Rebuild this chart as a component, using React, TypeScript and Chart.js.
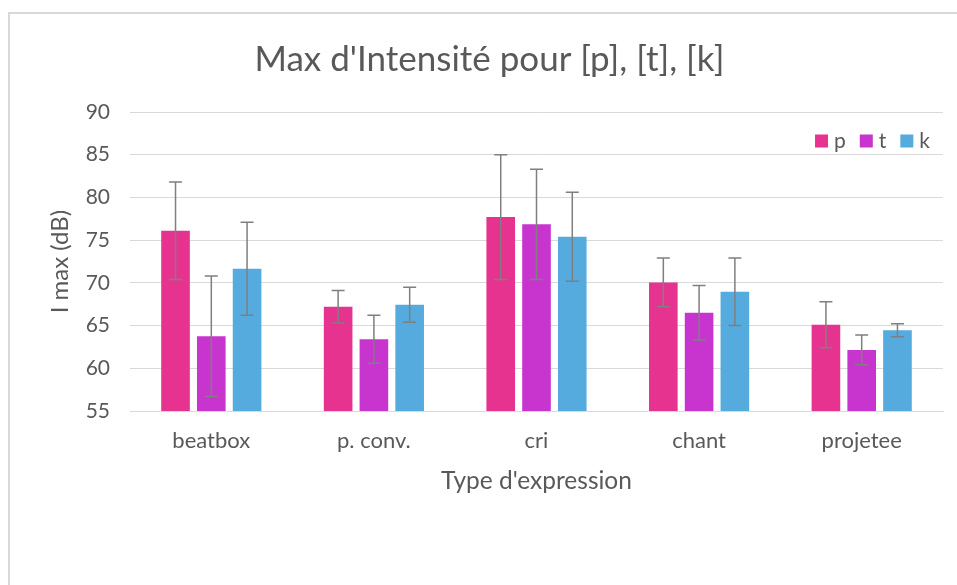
import React, { useEffect, useRef } from 'react';
import { Chart, registerables } from 'chart.js';

Chart.register(...registerables);

const categories = ['beatbox', 'p. conv.', 'cri', 'chant', 'projetee'];
const seriesNames = ['p', 't', 'k'];
const pValues = [76.1, 67.2, 77.7, 70.05, 65.1];
const tValues = [63.75, 63.4, 76.85, 66.5, 62.15];
const kValues = [71.65, 67.45, 75.4, 68.95, 64.45];
const pErrors = [5.7, 1.9, 7.3, 2.85, 2.7];
const tErrors = [7.05, 2.8, 6.45, 3.2, 1.75];
const kErrors = [5.45, 2.05, 5.2, 3.95, 0.75];
const yMin = 55;
const yMax = 90;
const yStep = 5;

const seriesColors = ['#E5338F', '#C735CE', '#55ABDE'];
const textColor = '#595959';
const gridColor = '#D9D9D9';
const FONT = 'Lato';

const errorBarPlugin = {
  id: 'errorBars',
  afterDatasetsDraw(chart: any) {
    const { ctx } = chart;
    const yScale = chart.scales.y;
    ctx.save();
    ctx.strokeStyle = '#7F7F7F';
    ctx.lineWidth = 1.5;
    chart.data.datasets.forEach((ds: any, i: number) => {
      const meta = chart.getDatasetMeta(i);
      meta.data.forEach((el: any, j: number) => {
        const v = ds.data[j];
        const e = ds.errors[j];
        const top = yScale.getPixelForValue(v + e);
        const bot = yScale.getPixelForValue(v - e);
        const x = el.x;
        const cap = 6.5;
        ctx.beginPath();
        ctx.moveTo(x, top);
        ctx.lineTo(x, bot);
        ctx.moveTo(x - cap, top);
        ctx.lineTo(x + cap, top);
        ctx.moveTo(x - cap, bot);
        ctx.lineTo(x + cap, bot);
        ctx.stroke();
      });
    });
    ctx.restore();
  },
};

const legendPlugin = {
  id: 'customLegend',
  afterDraw(chart: any) {
    const { ctx, chartArea } = chart;
    ctx.save();
    ctx.font = `21px ${FONT}`;
    ctx.textBaseline = 'middle';
    ctx.textAlign = 'left';
    const box = 13;
    const gap = 6;
    const itemGap = 14;
    const items = chart.data.datasets.map((ds: any) => ({
      label: ds.label,
      color: ds.backgroundColor,
      w: ctx.measureText(ds.label).width,
    }));
    const total = items.reduce((s: number, it: any) => s + box + gap + it.w, 0) + itemGap * (items.length - 1);
    let x = chartArea.right - 13 - total;
    const cy = 141;
    items.forEach((it: any) => {
      ctx.fillStyle = it.color;
      ctx.fillRect(x, cy - box / 2, box, box);
      ctx.fillStyle = textColor;
      ctx.fillText(it.label, x + box + gap, cy);
      x += box + gap + it.w + itemGap;
    });
    ctx.restore();
  },
};

export default function App() {
  const ref = useRef<HTMLCanvasElement | null>(null);

  useEffect(() => {
    if (!ref.current) return;
    const values = [pValues, tValues, kValues];
    const errors = [pErrors, tErrors, kErrors];
    const chart = new Chart(ref.current, {
      type: 'bar',
      data: {
        labels: categories,
        datasets: seriesNames.map((name, i) => ({
          label: name,
          data: values[i],
          errors: errors[i],
          backgroundColor: seriesColors[i],
          borderWidth: 0,
          categoryPercentage: 0.66,
          barPercentage: 0.8,
        })) as any,
      },
      options: {
        responsive: false,
        animation: false,
        layout: { padding: { left: 36, right: 14, top: 0, bottom: 74 } },
        plugins: {
          legend: { display: false },
          tooltip: { enabled: false },
          title: {
            display: true,
            text: "Max d'Intensité pour [p], [t], [k]",
            color: textColor,
            font: { family: FONT, size: 35, weight: 'normal' },
            padding: { top: 39, bottom: 31 },
          },
        },
        scales: {
          x: {
            grid: { display: false, drawTicks: false },
            border: { display: true, color: gridColor, width: 1 },
            ticks: { color: textColor, font: { family: FONT, size: 22 }, padding: 17 },
            title: {
              display: true,
              text: "Type d'expression",
              color: textColor,
              font: { family: FONT, size: 24.5 },
              padding: { top: 0, bottom: 15 },
            },
            afterFit: (s: any) => { s.height = 100; },
          },
          y: {
            min: yMin,
            max: yMax,
            grid: { color: gridColor, drawTicks: false, lineWidth: 1 },
            border: { display: false },
            ticks: { stepSize: yStep, color: textColor, font: { family: FONT, size: 21 }, padding: 20 },
            title: {
              display: true,
              text: 'I max (dB)',
              color: textColor,
              font: { family: FONT, size: 24 },
              padding: { top: 10, bottom: 0 },
            },
            afterFit: (s: any) => { s.width = 94; },
          },
        },
      },
      plugins: [errorBarPlugin, legendPlugin],
    });
    return () => chart.destroy();
  }, []);

  return (
    <div style={{ position: 'fixed', left: 0, top: 0, width: 957, height: 585, overflow: 'hidden', background: '#fff' }}>
      <div style={{ position: 'absolute', left: 8, top: 12, width: 1000, height: 700, border: '2px solid #D9D9D9' }} />
      <canvas ref={ref} width={957} height={585} style={{ position: 'absolute', left: 0, top: 0 }} />
    </div>
  );
}
